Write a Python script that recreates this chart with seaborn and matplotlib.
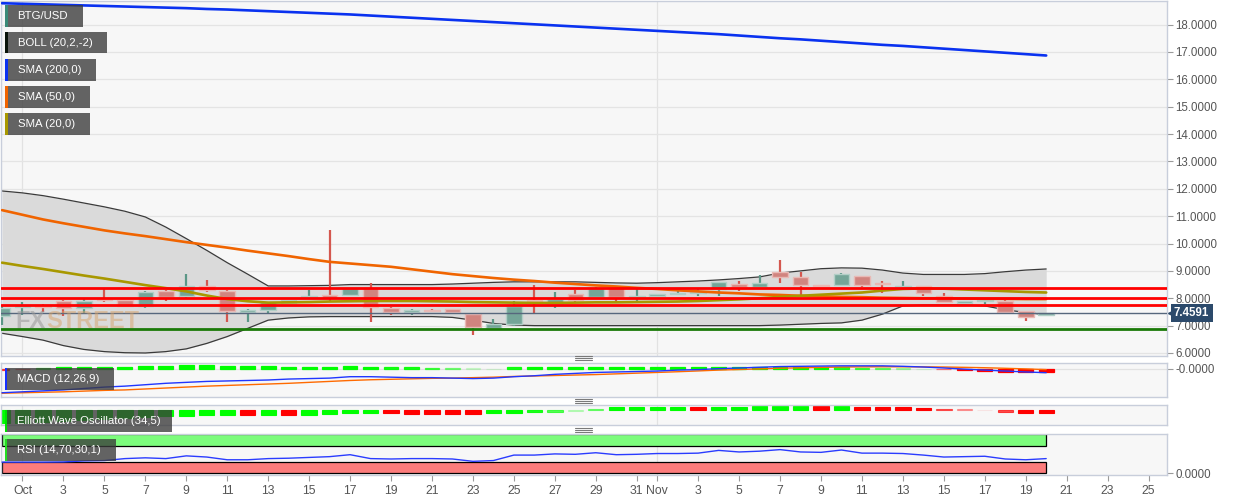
import numpy as np
import pandas as pd
import matplotlib
matplotlib.use('Agg')
import matplotlib.pyplot as plt
import matplotlib.colors as mcolors
import matplotlib.transforms as mtrans
from matplotlib.patches import Rectangle
from matplotlib.lines import Line2D
import seaborn as sns

sns.set_style('white')
plt.rcParams['font.family'] = ['Liberation Sans', 'DejaVu Sans']

# ---- data ----
dates = pd.date_range('2019-09-30', '2019-11-20', freq='D')

opens = [7.36, 7.69, 7.72, 7.90, 7.63, 7.98, 7.92, 7.70, 8.26, 8.07,
         8.46, 8.26, 7.51, 7.58, 7.82, 8.05, 8.12, 8.12, 8.36, 7.65,
         7.48, 7.58, 7.61, 7.43, 6.93, 7.05, 7.95, 7.80, 8.15, 8.06,
         8.40, 8.04, 8.09, 8.15, 8.20, 8.32, 8.52, 8.40, 8.97, 8.78,
         8.47, 8.48, 8.81, 8.54, 8.40, 8.43, 8.08, 7.84, 7.91, 7.90,
         7.53, 7.40]
highs = [7.70, 7.85, 7.80, 7.95, 7.97, 8.38, 7.95, 8.26, 8.29, 8.87,
         8.66, 8.29, 7.60, 7.87, 7.95, 8.30, 10.49, 8.38, 8.55, 7.68,
         7.60, 7.62, 7.62, 7.45, 7.23, 7.90, 8.48, 8.24, 8.31, 8.40,
         8.42, 8.36, 8.17, 8.35, 8.35, 8.60, 8.62, 8.85, 9.39, 8.97,
         8.50, 8.91, 8.83, 8.62, 8.62, 8.45, 8.18, 7.90, 7.96, 7.92,
         7.55, 7.47]
lows = [7.02, 7.40, 7.50, 7.36, 7.42, 7.88, 7.68, 7.63, 7.90, 8.00,
        8.23, 7.14, 7.14, 7.45, 7.78, 8.04, 7.85, 8.08, 7.14, 7.37,
        7.37, 7.52, 7.50, 6.66, 6.83, 7.00, 7.45, 7.63, 7.88, 8.03,
        7.85, 7.81, 8.06, 8.12, 8.10, 8.09, 8.27, 8.38, 8.54, 8.12,
        8.44, 8.43, 8.41, 8.20, 8.38, 8.08, 7.85, 7.80, 7.80, 7.42,
        7.17, 7.38]
closes = [7.65, 7.74, 7.68, 7.63, 7.90, 7.92, 7.70, 8.22, 8.03, 8.46,
          8.29, 7.53, 7.58, 7.85, 7.93, 8.09, 8.02, 8.36, 7.68, 7.48,
          7.56, 7.55, 7.51, 6.95, 7.05, 7.73, 7.90, 7.97, 7.95, 8.36,
          8.06, 8.09, 8.15, 8.20, 8.23, 8.58, 8.40, 8.54, 8.78, 8.48,
          8.45, 8.87, 8.48, 8.52, 8.45, 8.18, 7.87, 7.89, 7.95, 7.51,
          7.33, 7.4591]

boll_upper = [11.92, 11.85, 11.75, 11.62, 11.48, 11.34, 11.18, 10.97, 10.60, 10.18,
              9.75, 9.30, 8.88, 8.45, 8.45, 8.46, 8.47, 8.50, 8.50, 8.50,
              8.50, 8.50, 8.52, 8.55, 8.58, 8.60, 8.60, 8.60, 8.60, 8.58,
              8.56, 8.55, 8.57, 8.60, 8.63, 8.67, 8.72, 8.78, 8.92, 9.00,
              9.08, 9.11, 9.10, 9.03, 8.92, 8.87, 8.87, 8.87, 8.90, 8.97,
              9.03, 9.07]
boll_lower = [6.72, 6.60, 6.47, 6.27, 6.13, 6.05, 6.01, 6.00, 6.05, 6.15,
              6.35, 6.60, 6.90, 7.20, 7.28, 7.32, 7.33, 7.33, 7.33, 7.33,
              7.33, 7.33, 7.30, 7.20, 7.08, 7.02, 7.00, 7.00, 7.00, 7.00,
              7.00, 7.00, 7.00, 7.00, 7.00, 7.00, 7.00, 7.00, 7.02, 7.05,
              7.08, 7.10, 7.20, 7.42, 7.72, 7.75, 7.75, 7.75, 7.72, 7.58,
              7.48, 7.40]
sma200 = [18.78, 18.76, 18.74, 18.72, 18.70, 18.68, 18.66, 18.64, 18.62, 18.60,
          18.57, 18.55, 18.52, 18.49, 18.46, 18.43, 18.40, 18.37, 18.33, 18.29,
          18.25, 18.21, 18.17, 18.13, 18.09, 18.05, 18.01, 17.97, 17.93, 17.89,
          17.85, 17.81, 17.77, 17.73, 17.69, 17.65, 17.60, 17.55, 17.50, 17.46,
          17.41, 17.36, 17.31, 17.26, 17.22, 17.17, 17.12, 17.07, 17.02, 16.97,
          16.92, 16.87]
sma50 = [11.22, 11.05, 10.88, 10.74, 10.61, 10.48, 10.37, 10.27, 10.16, 10.05,
         9.95, 9.85, 9.74, 9.64, 9.54, 9.43, 9.33, 9.27, 9.21, 9.15,
         9.06, 8.97, 8.88, 8.81, 8.74, 8.68, 8.63, 8.57, 8.52, 8.47,
         8.43, 8.38, 8.34, 8.29, 8.25, 8.21, 8.18, 8.14, 8.12, 8.09,
         8.07, 8.05, 8.04, 8.02, 8.01, 8.00, 8.00, 7.99, 7.98, 7.98,
         7.97, 7.97]
sma20 = [9.30, 9.18, 9.07, 8.95, 8.83, 8.72, 8.60, 8.48, 8.37, 8.25,
         8.10, 7.97, 7.89, 7.84, 7.85, 7.86, 7.88, 7.89, 7.90, 7.90,
         7.90, 7.89, 7.88, 7.86, 7.85, 7.84, 7.83, 7.83, 7.84, 7.85,
         7.85, 7.86, 7.87, 7.88, 7.90, 7.93, 7.96, 8.00, 8.05, 8.09,
         8.13, 8.17, 8.21, 8.28, 8.34, 8.36, 8.35, 8.32, 8.29, 8.26,
         8.23, 8.21]

red_levels = [8.38, 8.02, 7.76]
green_level = 6.88
last_price = 7.4591

macd_line = [-0.51, -0.49, -0.47, -0.45, -0.42, -0.39, -0.37, -0.34, -0.31, -0.29,
             -0.27, -0.26, -0.25, -0.24, -0.22, -0.21, -0.20, -0.17, -0.17, -0.18,
             -0.19, -0.19, -0.20, -0.21, -0.20, -0.17, -0.15, -0.12, -0.10, -0.08,
             -0.07, -0.06, -0.05, -0.03, -0.02, 0.00, 0.015, 0.03, 0.045, 0.05,
             0.055, 0.06, 0.06, 0.06, 0.05, 0.035, 0.015, -0.01, -0.03, -0.05,
             -0.07, -0.085]
macd_signal = [-0.52, -0.51, -0.50, -0.49, -0.475, -0.46, -0.45, -0.43, -0.41, -0.39,
               -0.37, -0.355, -0.34, -0.325, -0.31, -0.29, -0.27, -0.25, -0.235, -0.225,
               -0.215, -0.205, -0.20, -0.19, -0.18, -0.165, -0.155, -0.145, -0.135, -0.125,
               -0.11, -0.095, -0.08, -0.065, -0.048, -0.03, -0.018, -0.005, 0.01, 0.018,
               0.027, 0.035, 0.038, 0.04, 0.04, 0.038, 0.035, 0.028, 0.02, 0.008,
               -0.005, -0.02]
macd_hist = [-0.02, -0.015, 0.02, 0.03, 0.035, 0.04, 0.04, 0.047, 0.053, 0.08,
             0.08, 0.053, 0.047, 0.047, 0.04, 0.04, 0.04, 0.053, 0.04, 0.027,
             0.027, 0.02, 0.013, 0.004, 0.0, 0.027, 0.033, 0.04, 0.04, 0.04,
             0.04, 0.04, 0.04, 0.045, 0.045, 0.045, 0.04, 0.04, 0.035, 0.03,
             0.03, 0.025, 0.02, 0.015, 0.008, 0.003, -0.015, -0.03, -0.045, -0.065,
             -0.075, -0.07]
ewo = [-1.30, -1.25, -1.15, -1.05, -0.95, -0.85, -0.78, -0.70, -0.64, -0.60,
       -0.54, -0.52, -0.53, -0.50, -0.51, -0.47, -0.40, -0.34, -0.33, -0.34,
       -0.35, -0.36, -0.37, -0.38, -0.33, -0.28, -0.22, -0.16, -0.05, 0.12,
       0.28, 0.29, 0.30, 0.33, 0.32, 0.33, 0.35, 0.37, 0.38, 0.39,
       0.37, 0.38, 0.35, 0.33, 0.30, 0.25, 0.15, 0.08, 0.01, -0.17,
       -0.25, -0.30]
rsi = [29, 29, 29, 29.5, 32, 33, 38, 40, 38, 45,
       42, 35, 35, 38, 39, 41, 43, 48, 38, 37,
       38, 38, 37, 31, 33, 47, 47, 50, 49, 53,
       48, 49, 51, 51, 52, 59, 55, 57, 61, 55,
       54, 60, 52, 52, 51, 47, 42, 43, 44, 37,
       35, 38]

# ---- layout ----
W, H = 1244, 501
days = np.array((dates - dates[0]).days)
fig = plt.figure(figsize=(W / 100, H / 100), dpi=100)
fig.patch.set_facecolor('white')


def panel(y0, y1):
    ax = fig.add_axes([1 / W, 1 - y1 / H, 1166 / W, (y1 - y0) / H])
    ax.set_facecolor('#f7f7f7')
    for s in ax.spines.values():
        s.set_color('#c8cedb')
        s.set_linewidth(1)
    ax.set_xlim(-0.05, 56.9)
    ax.yaxis.tick_right()
    ax.tick_params(axis='y', direction='out', length=4, width=0.8, color='#9a9a9a',
                   labelsize=8.3, labelcolor='#555555', pad=2)
    ax.tick_params(axis='x', bottom=False, labelbottom=False)
    for d in (1, 32):
        ax.axvline(d, color='#e2e2e2', lw=0.9, zorder=0)
    return ax


ax = panel(0.5, 356)
ax_macd = panel(363, 397)
ax_ewo = panel(405, 425)
ax_rsi = panel(434, 475)

# ---- main price panel ----
ax.set_ylim(5.89, 18.88)
ax.set_yticks(np.arange(6, 19))
ax.yaxis.set_major_formatter(plt.FormatStrFormatter('%.4f'))
for v in range(6, 19):
    ax.axhline(v, color='#e4e4e4', lw=0.9, zorder=0)

ax.fill_between(days, boll_lower, boll_upper, color='#dadada', lw=0, zorder=1)
sns.lineplot(x=days, y=boll_upper, ax=ax, color='#3a3a3a', lw=0.9, zorder=2)
sns.lineplot(x=days, y=boll_lower, ax=ax, color='#3a3a3a', lw=0.9, zorder=2)

o, h, l, c = map(np.array, (opens, highs, lows, closes))
up = c >= o
wick_col = np.where(up, '#5b9787', '#d4574f')
body_col = np.where(up, '#74a598', '#d1847f')
edge_col = np.where(up, '#b2cfc7', '#e9b9b5')
ax.vlines(days, l, h, colors=wick_col, lw=1.6, zorder=3)
ax.bar(days, np.maximum(np.abs(c - o), 0.02), bottom=np.minimum(o, c), width=0.76,
       color=body_col, edgecolor=edge_col, linewidth=1, zorder=4)

sns.lineplot(x=days, y=sma200, ax=ax, color='#0a32f0', lw=1.9, zorder=5)
sns.lineplot(x=days, y=sma50, ax=ax, color='#f06400', lw=1.9, zorder=5)
sns.lineplot(x=days, y=sma20, ax=ax, color='#a89800', lw=1.9, zorder=5)

for lv in red_levels:
    ax.axhline(lv, color='#ff0000', lw=2, zorder=6)
ax.axhline(green_level, color='#1b7a08', lw=2, zorder=6)
ax.axhline(last_price, color='#56677d', lw=1, zorder=6)

ax.annotate(f'{last_price:.4f}', xy=(1, last_price), xycoords=('axes fraction', 'data'),
            xytext=(5, 0), textcoords='offset points', ha='left', va='center',
            color='white', fontsize=8.3, fontweight='bold', annotation_clip=False,
            bbox=dict(boxstyle='square,pad=0.28', fc='#2c4a6b', ec='none'), zorder=10)
tr = mtrans.blended_transform_factory(ax.transAxes, ax.transData)
ax.plot([1.0035], [last_price], marker='<', ms=4.5, color='#2c4a6b', transform=tr,
        clip_on=False, zorder=10)

# ---- MACD ----
ax_macd.set_ylim(-0.6, 0.12)
ax_macd.set_yticks([-1e-9])
ax_macd.yaxis.set_major_formatter(plt.FormatStrFormatter('%.4f'))
ax_macd.axhline(0, color='#e2e2e2', lw=0.9, zorder=0)
mh = np.array(macd_hist)
macd_cols = [mcolors.to_rgba('#00ff00' if v >= 0 else '#ff0000',
                             float(np.clip(abs(v) / 0.03, 0.12, 1))) for v in mh]
ax_macd.bar(days, mh, width=0.72, color=macd_cols, edgecolor=macd_cols, linewidth=0.9,
            zorder=2)
sns.lineplot(x=days, y=macd_signal, ax=ax_macd, color='#ff6a00', lw=1, zorder=3)
sns.lineplot(x=days, y=macd_line, ax=ax_macd, color='#2036ff', lw=1, zorder=4)

# ---- Elliott Wave Oscillator ----
ax_ewo.set_ylim(-1.5, 0.5)
ax_ewo.set_yticks([])
ev = np.array(ewo)
rising = np.diff(ev, prepend=ev[0]) >= 0
ewo_cols = [mcolors.to_rgba('#00ff00' if r else '#ff0000',
                            float(np.clip(abs(v) / 0.25, 0.08, 1))) for v, r in zip(ev, rising)]
ax_ewo.bar(days, ev, width=0.75, color=ewo_cols, edgecolor=ewo_cols, linewidth=0.8,
           zorder=2)

# ---- RSI ----
ax_rsi.set_ylim(-4, 101)
ax_rsi.set_yticks([0])
ax_rsi.yaxis.set_major_formatter(plt.FormatStrFormatter('%.4f'))
ax_rsi.add_patch(Rectangle((0, 70), days[-1], 30, fc='#7cfc7c', ec='black', lw=0.9, zorder=1))
ax_rsi.add_patch(Rectangle((0, 0), days[-1], 30, fc='#fc7c7c', ec='black', lw=0.9, zorder=1))
sns.lineplot(x=days, y=rsi, ax=ax_rsi, color='#2a3cff', lw=1, zorder=3)

tick_dates = [d for d in pd.date_range('2019-10-01', '2019-11-25', freq='D')
              if d.day % 2 == 1 or d.day == 1 or (d.month == 11 and d.day == 1)]
tick_pos = [(d - dates[0]).days for d in tick_dates]
tick_lab = [d.strftime('%b') if d.day == 1 else str(d.day) for d in tick_dates]
ax_rsi.set_xticks(tick_pos)
ax_rsi.set_xticklabels(tick_lab)
ax_rsi.tick_params(axis='x', bottom=True, labelbottom=True, direction='out', length=4,
                   width=0.8, color='#9a9a9a', labelsize=8.8, labelcolor='#555555', pad=3)
for a in (ax, ax_macd, ax_ewo, ax_rsi):
    a.set_xlabel('')
    a.set_ylabel('')


# ---- overlay tags ----
def tag(x, y, w, hh, text, strip):
    fig.add_artist(Rectangle((x / W, 1 - (y + hh) / H), w / W, hh / H, transform=fig.transFigure,
                             fc='#3a3a3a', alpha=0.78, ec='none', zorder=20))
    fig.add_artist(Rectangle(((x - 2.5) / W, 1 - (y + hh) / H), 2.5 / W, hh / H,
                             transform=fig.transFigure, fc=strip, ec='none', zorder=21))
    fig.text((x + 10) / W, 1 - (y + hh / 2) / H, text, color='white', fontsize=8.2,
             va='center', ha='left', zorder=22)


tag(7.5, 5, 76, 21.5, 'BTG/USD', '#3a8a78')
tag(7.5, 32.3, 99, 21, 'BOLL (20,2,-2)', '#0a140a')
tag(7.5, 59.3, 88.5, 21.4, 'SMA (200,0)', '#0a32f0')
tag(7.5, 86, 82.5, 21.7, 'SMA (50,0)', '#f06400')
tag(7.5, 113.3, 82.5, 21.7, 'SMA (20,0)', '#a89800')
tag(7, 368, 107, 21.5, 'MACD (12,26,9)', '#1530ff')
tag(7, 410, 165, 22, 'Elliott Wave Oscillator (34,5)', '#00e000')
tag(7, 439, 109, 22, 'RSI (14,70,30,1)', '#22dd22')

# watermark, "STREET" placed right after "FX"
wm_family = ['Liberation Sans Narrow', 'Liberation Sans', 'DejaVu Sans']
fx = fig.text(15 / W, 1 - 321 / H, 'FX', fontsize=17, fontweight='bold', color='#9a9a9a',
              alpha=0.55, va='center', ha='left', family=wm_family, zorder=15)
fig.add_artist(plt.Annotation('STREET', xy=(1, 0.5), xycoords=fx, xytext=(0.5, 0),
                              textcoords='offset points', fontsize=17, fontweight='bold',
                              color='#d8a36a', alpha=0.5, va='center', ha='left',
                              family=wm_family, zorder=15))

# panel resize handles
for yc in (358, 401, 430):
    for dy in (-2, 0, 2):
        fig.add_artist(Line2D([575 / W, 592 / W], [1 - (yc + dy) / H] * 2,
                              color='#7a7a7a', lw=0.8, transform=fig.transFigure))

fig.savefig('out.png', dpi=100, facecolor='white')
